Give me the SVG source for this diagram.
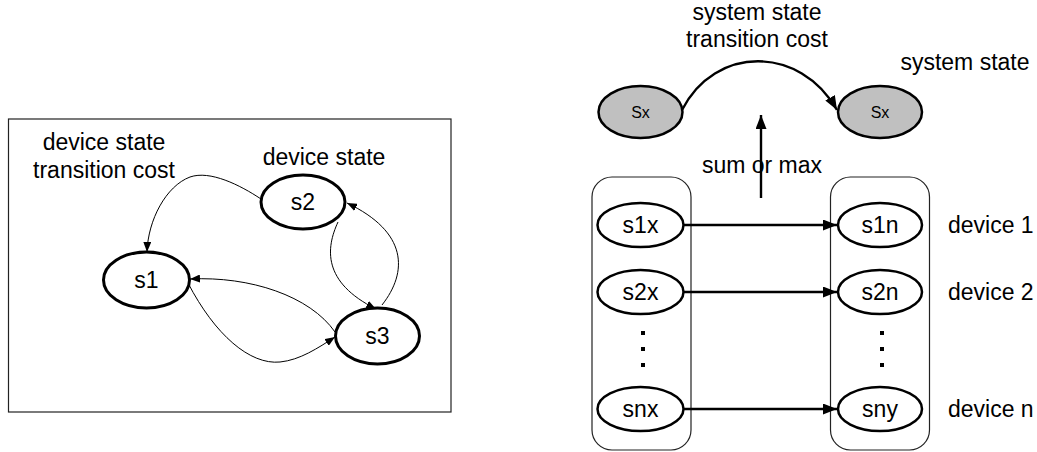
<svg xmlns="http://www.w3.org/2000/svg" width="1037" height="452" viewBox="0 0 1037 452">
  <style>
    text { font-family: "Liberation Sans", Arial, sans-serif; fill: #000; }
    .lbl { font-size: 23px; }
    .nlbl { font-size: 23px; text-anchor: middle; }
    .small { font-size: 16px; text-anchor: middle; }
    .mid { text-anchor: middle; }
    .state { fill: #fff; stroke: #000; stroke-width: 3; }
    .dev { fill: #fff; stroke: #000; stroke-width: 2.5; }
    .sys { fill: #c0c0c0; stroke: #000; stroke-width: 2.5; }
    .frame { fill: none; stroke: #222; stroke-width: 1.2; }
    .thin { fill: none; stroke: #000; stroke-width: 1; }
    .thick { fill: none; stroke: #000; stroke-width: 2.4; }
    .dot { fill: #000; }
  </style>
  <defs>
    <marker id="arrowSmall" markerUnits="userSpaceOnUse" markerWidth="10" markerHeight="8" refX="10" refY="4" orient="auto">
      <path d="M0,0 L10,4 L0,8 Z" fill="#000"/>
    </marker>
    <marker id="arrowBig" markerUnits="userSpaceOnUse" markerWidth="14" markerHeight="11" refX="14" refY="5.5" orient="auto">
      <path d="M0,0 L14,5.5 L0,11 Z" fill="#000"/>
    </marker>
  </defs>

  <!-- Left panel: device state machine -->
  <rect class="frame" x="8.5" y="119" width="442.5" height="293"/>

  <text class="lbl mid" x="104" y="150">device state</text>
  <text class="lbl mid" x="104" y="178">transition cost</text>
  <text class="lbl mid" x="324" y="165">device state</text>

  <g id="device-edges">
    <path class="thin" d="M261,199 C240,185 210,170 190,177 C166,186 148,220 147,252" marker-end="url(#arrowSmall)"/>
    <path class="thin" d="M338,222 C326,248 322,282 376,309" marker-end="url(#arrowSmall)"/>
    <path class="thin" d="M382,305 C408,272 408,232 347,203" marker-end="url(#arrowSmall)"/>
    <path class="thin" d="M335,332 C310,296 250,276 190,279" marker-end="url(#arrowSmall)"/>
    <path class="thin" d="M188,283 C215,335 250,365 280,362 C300,360 318,348 335,337" marker-end="url(#arrowSmall)"/>
  </g>

  <g id="s1">
    <ellipse class="state" cx="146.5" cy="280" rx="43" ry="28"/>
    <text class="nlbl" x="146.5" y="288">s1</text>
  </g>
  <g id="s2">
    <ellipse class="state" cx="303" cy="202" rx="42" ry="27"/>
    <text class="nlbl" x="303" y="210">s2</text>
  </g>
  <g id="s3">
    <ellipse class="state" cx="377.5" cy="336" rx="42" ry="28"/>
    <text class="nlbl" x="377.5" y="344">s3</text>
  </g>

  <!-- Right panel: system state composed from device states -->
  <text class="lbl mid" x="757" y="20">system state</text>
  <text class="lbl mid" x="757" y="47">transition cost</text>
  <text class="lbl mid" x="965" y="70">system state</text>
  <text class="lbl mid" x="762" y="173">sum or max</text>

  <rect class="frame" x="592" y="177" width="99" height="273" rx="20" ry="20"/>
  <rect class="frame" x="830.5" y="177" width="99" height="273" rx="20" ry="20"/>

  <g id="system-edges">
    <path class="thick" d="M682,110 C715,45 800,45 837,110" marker-end="url(#arrowBig)"/>
    <line class="thick" x1="761" y1="198" x2="761" y2="115" marker-end="url(#arrowBig)"/>
    <line class="thick" x1="684" y1="225" x2="837" y2="225" marker-end="url(#arrowBig)"/>
    <line class="thick" x1="684" y1="292" x2="837" y2="292" marker-end="url(#arrowBig)"/>
    <line class="thick" x1="684" y1="409" x2="837" y2="409" marker-end="url(#arrowBig)"/>
  </g>

  <g id="sx-from">
    <ellipse class="sys" cx="640.5" cy="112" rx="42" ry="26"/>
    <text class="small" x="640.5" y="118">Sx</text>
  </g>
  <g id="sx-to">
    <ellipse class="sys" cx="880" cy="112" rx="42" ry="26"/>
    <text class="small" x="880" y="118">Sx</text>
  </g>

  <g id="s1x">
    <ellipse class="dev" cx="640.5" cy="225" rx="43" ry="22"/>
    <text class="nlbl" x="640.5" y="233">s1x</text>
  </g>
  <g id="s2x">
    <ellipse class="dev" cx="640.5" cy="292" rx="43" ry="22"/>
    <text class="nlbl" x="640.5" y="300">s2x</text>
  </g>
  <g id="snx">
    <ellipse class="dev" cx="640.5" cy="409" rx="43" ry="22"/>
    <text class="nlbl" x="640.5" y="417">snx</text>
  </g>
  <g id="s1n">
    <ellipse class="dev" cx="880" cy="225" rx="42" ry="22"/>
    <text class="nlbl" x="880" y="233">s1n</text>
  </g>
  <g id="s2n">
    <ellipse class="dev" cx="880" cy="292" rx="42" ry="22"/>
    <text class="nlbl" x="880" y="300">s2n</text>
  </g>
  <g id="sny">
    <ellipse class="dev" cx="880" cy="409" rx="42" ry="22"/>
    <text class="nlbl" x="880" y="417">sny</text>
  </g>

  <g id="ellipsis-left">
    <rect class="dot" x="641" y="331" width="4" height="4"/>
    <rect class="dot" x="641" y="347" width="4" height="4"/>
    <rect class="dot" x="641" y="363" width="4" height="4"/>
  </g>
  <g id="ellipsis-right">
    <rect class="dot" x="880" y="331" width="4" height="4"/>
    <rect class="dot" x="880" y="347" width="4" height="4"/>
    <rect class="dot" x="880" y="363" width="4" height="4"/>
  </g>

  <text class="lbl" x="948" y="233">device 1</text>
  <text class="lbl" x="948" y="300">device 2</text>
  <text class="lbl" x="948" y="417">device n</text>
</svg>
